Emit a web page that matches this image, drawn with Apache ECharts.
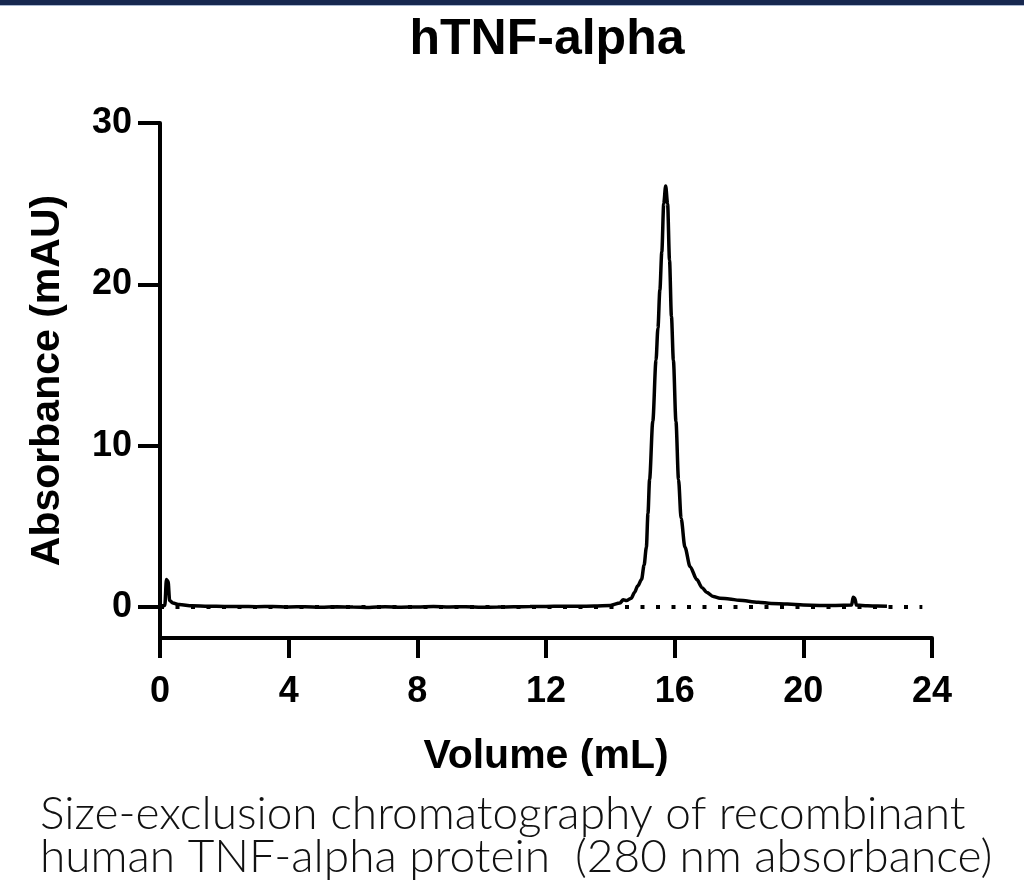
<!DOCTYPE html>
<html>
<head>
<meta charset="utf-8">
<script src="https://cdn.jsdelivr.net/npm/echarts@6/dist/echarts.min.js"></script>
<style>
  html, body { margin: 0; padding: 0; background: #fff; }
  #chart { width: 1024px; height: 894px; }
</style>
</head>
<body>
<div id="chart"></div>
<script>
// elution volume (mL) and 280 nm absorbance (mAU)
const volume = [
  0.00, 0.15, 0.20, 0.25, 0.30, 0.40, 0.60, 1.0, 1.5, 2.0, 2.5, 3.0, 3.5, 4.0,
  4.5, 5.0, 5.5, 6.0, 6.5, 7.0, 7.5, 8.0, 8.5, 9.0, 9.5, 10.0, 10.5, 11.0,
  11.5, 12.0, 12.5, 13.0, 13.5, 14.0, 14.3, 14.4, 14.5, 14.65, 14.75, 14.85,
  14.97, 15.05, 15.12, 15.17, 15.22, 15.32, 15.42, 15.48, 15.54, 15.60, 15.66,
  15.72, 15.78, 15.84, 15.90, 15.96, 16.04, 16.12, 16.20, 16.32, 16.48, 16.69,
  16.85, 17.0, 17.2, 17.41, 17.7, 18.0, 18.6, 19.0, 19.5, 20.0, 20.5, 21.0,
  21.5, 21.55, 21.6, 21.65, 22.0, 22.3, 22.6
];
const absorbance = [
  0.05, 0.10, 1.70, 1.60, 0.40, 0.25, 0.15, 0.08, 0.05, 0.04, 0.03, 0.02, 0.03, 0.00,
  0.02, -0.02, 0.01, 0.00, -0.03, 0.02, -0.01, 0.00, 0.03, 0.00, 0.02, -0.02, 0.00, 0.01,
  0.03, 0.04, 0.05, 0.05, 0.06, 0.10, 0.25, 0.45, 0.40, 0.55, 0.90, 1.30,
  1.70, 2.60, 3.70, 5.80, 7.90, 11.5, 15.3, 17.3, 19.65, 22.0, 25.0,
  26.1, 25.0, 21.5, 18.0, 15.3, 11.5, 7.9, 5.5, 3.7, 2.5, 1.7,
  1.2, 0.9, 0.65, 0.55, 0.50, 0.42, 0.30, 0.22, 0.18, 0.12, 0.10, 0.10,
  0.12, 0.60, 0.55, 0.12, 0.08, 0.06, 0.05
];
// dotted zero baseline
const baselineX = [0, 23.7];
const yTicks = [0, 10, 20, 30];
const xTicks = [0, 4, 8, 12, 16, 20, 24];

const chart = echarts.init(document.getElementById("chart"));
const ink = "#000";
const bold = { color: ink, fontFamily: "Liberation Sans, Arial, sans-serif", fontWeight: "bold" };

chart.setOption({
  animation: false,
  backgroundColor: "#fff",
  title: {
    text: "hTNF-alpha",
    left: 542,
    top: 10,
    textAlign: "center",
    textStyle: { ...bold, fontSize: 50 },
  },
  grid: { left: 160, right: 92, top: 123, bottom: 256 },
  xAxis: {
    type: "value",
    min: 0,
    max: 24,
    interval: 4,
    name: "Volume (mL)",
    nameLocation: "middle",
    nameGap: 98,
    nameTextStyle: { ...bold, fontSize: 41 },
    axisLine: { onZero: false, lineStyle: { color: ink, width: 4 } },
    axisTick: { length: 20, lineStyle: { color: ink, width: 4 } },
    axisLabel: { ...bold, fontSize: 36, margin: 36, customValues: xTicks },
    splitLine: { show: false },
  },
  yAxis: {
    type: "value",
    min: -1.92,
    max: 30,
    name: "Absorbance (mAU)",
    nameLocation: "middle",
    nameGap: 92,
    nameTextStyle: { ...bold, fontSize: 41 },
    axisLine: { show: true, lineStyle: { color: ink, width: 4 } },
    axisTick: { show: true, length: 22, lineStyle: { color: ink, width: 4 }, customValues: yTicks },
    axisLabel: { ...bold, fontSize: 36, margin: 28, customValues: yTicks },
    splitLine: { show: false },
  },
  series: [
    {
      type: "line",
      data: baselineX.map((x) => [x, 0]),
      showSymbol: false,
      lineStyle: { color: ink, width: 4, type: [4, 11.5] },
      z: 1,
    },
    {
      type: "line",
      data: volume.map((v, i) => [v, absorbance[i]]),
      showSymbol: false,
      smooth: 0.3,
      smoothMonotone: "x",
      lineStyle: { color: ink, width: 3.5 },
      z: 2,
    },
  ],
  graphic: [
    { type: "rect", left: 0, top: 0, shape: { width: 1024, height: 5 }, style: { fill: "#17284f" } },
    { type: "rect", left: 0, top: 5, shape: { width: 1024, height: 1 }, style: { fill: "#a9b8d0" } },
    {
      type: "text",
      left: 40,
      top: 791,
      style: {
        text: "Size-exclusion chromatography of recombinant\nhuman TNF-alpha protein  (280 nm absorbance)",
        font: "300 46px Lato, 'Open Sans', sans-serif",
        lineHeight: 43,
        fill: "#111",
      },
    },
  ],
});
</script>
</body>
</html>
